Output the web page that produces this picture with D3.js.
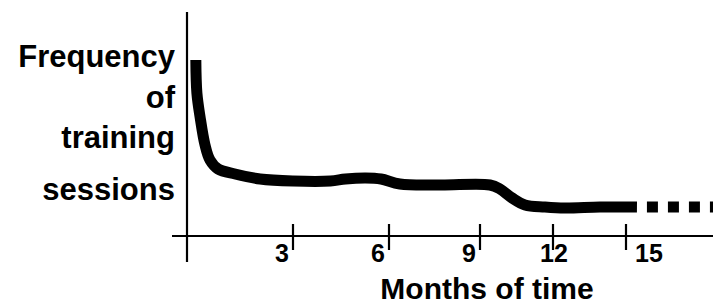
<!DOCTYPE html>
<html>
<head>
<meta charset="utf-8">
<script src="https://cdn.jsdelivr.net/npm/d3@7"></script>
<style>
  html, body { margin: 0; padding: 0; background: #fff; }
  svg { display: block; }
  text { font-family: "Liberation Sans", Arial, sans-serif; font-weight: bold; fill: #000; }
</style>
</head>
<body>
<svg id="chart" width="713" height="305"></svg>
<script>
// ---- data (months vs. relative frequency) ----
const months    = [0.25, 0.28, 0.37, 0.51, 0.65, 0.88, 1.36, 2.07, 3.0, 4.17, 4.64, 5.27, 5.75, 6.36, 7.68, 9.41, 9.82, 10.32, 10.85, 11.67, 12.49, 13.93, 15.45];
const frequency = [8.8, 7.15, 5.95, 4.55, 3.8, 3.35, 3.1, 2.85, 2.75, 2.75, 2.85, 2.9, 2.85, 2.6, 2.55, 2.55, 2.35, 1.9, 1.55, 1.45, 1.4, 1.45, 1.45];
const projMonths = [15.86, 18.6];
const projFrequency = [1.45, 1.45];
const tickMonths = [3, 6, 9, 12, 15];
const tickLabels = ["3", "6", "9", "12", "15"];
const yLabelLines = ["Frequency", "of", "training", "sessions"];
const xTitle = "Months of time";

// ---- scales (hand-drawn axis has uneven spacing) ----
const x = d3.scaleLinear().domain([0, 3, 6, 9, 12, 15, 18]).range([187, 293, 389, 480, 553, 626, 699]);
const y = d3.scaleLinear().domain([0, 10]).range([236, 36]);

const svg = d3.select("#chart");

// axes lines
svg.append("line").attr("x1", x(0)).attr("x2", x(0)).attr("y1", 12).attr("y2", 262)
  .attr("stroke", "#000").attr("stroke-width", 2.2);
svg.append("line").attr("x1", 172).attr("x2", 713).attr("y1", y(0)).attr("y2", y(0))
  .attr("stroke", "#000").attr("stroke-width", 2.2);

// ticks
svg.selectAll("line.tick").data(tickMonths).join("line").attr("class", "tick")
  .attr("x1", d => x(d)).attr("x2", d => x(d))
  .attr("y1", y(0) - 12).attr("y2", y(0) + 14)
  .attr("stroke", "#000").attr("stroke-width", 2.2);

// tick labels
svg.selectAll("text.tl").data(tickMonths).join("text").attr("class", "tl")
  .attr("x", d => d < 12 ? x(d) - 4 : (d === 12 ? x(d) - 13 : x(d) + 9))
  .attr("y", 262)
  .attr("text-anchor", d => d < 12 ? "end" : "start")
  .attr("font-size", 25)
  .text((d, i) => tickLabels[i]);

// y label lines
const yLabelBaselines = [67, 108, 148, 200];
svg.selectAll("text.yl").data(yLabelLines).join("text").attr("class", "yl")
  .attr("x", 175).attr("y", (d, i) => yLabelBaselines[i])
  .attr("text-anchor", "end").attr("font-size", 31)
  .text(d => d);

// x title
svg.append("text").attr("x", 487).attr("y", 299).attr("text-anchor", "middle")
  .attr("font-size", 30).text(xTitle);

// main curve
const pts = months.map((m, i) => [m, frequency[i]]);
svg.append("path").attr("d", d3.line().x(d => x(d[0])).y(d => y(d[1])).curve(d3.curveCatmullRom)(pts))
  .attr("fill", "none").attr("stroke", "#000").attr("stroke-width", 11)
  .attr("stroke-linejoin", "round").attr("stroke-linecap", "butt");

// projected dotted continuation
const proj = projMonths.map((m, i) => [m, projFrequency[i]]);
svg.append("path").attr("d", d3.line().x(d => x(d[0])).y(d => y(d[1]))(proj))
  .attr("fill", "none").attr("stroke", "#000").attr("stroke-width", 11)
  .attr("stroke-dasharray", "11,10");
</script>
</body>
</html>
